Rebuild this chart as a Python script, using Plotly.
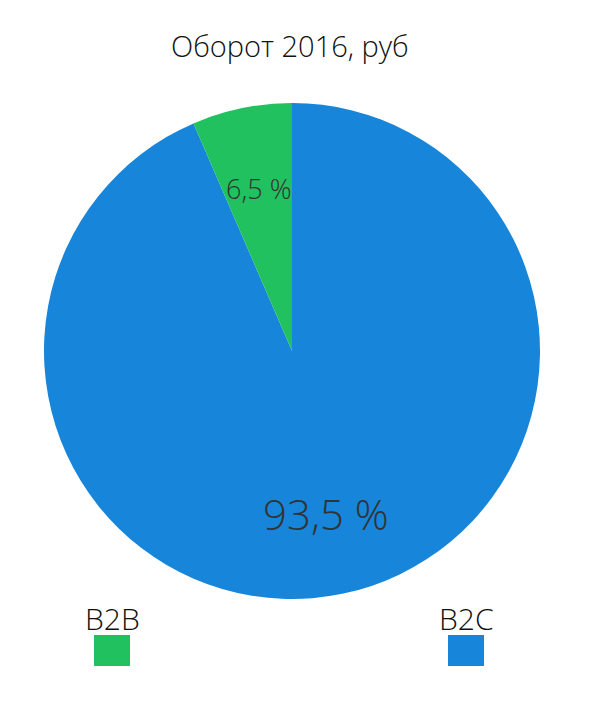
import math
import plotly.graph_objects as go

title_text = "Оборот 2016, руб"
categories = ["B2B", "B2C"]
values = [6.5, 93.5]
colors = ["#21C160", "#1685DA"]
label_sizes = [27, 42]

W, H = 600, 712
OFF = 8  # page body margin in the browser
cx, cy, R = 292 - OFF, 351 - OFF, 248  # pie geometry in pixels
FONT = "Open Sans, Helvetica Neue, Liberation Sans, Arial, sans-serif"
WEIGHT = 300
TXT = "#333333"

# B2B sits counterclockwise from 12 o'clock: draw clockwise with B2B last
fig = go.Figure()
fig.add_trace(go.Pie(
    labels=categories[::-1], values=values[::-1],
    marker=dict(colors=colors[::-1], line=dict(width=0)),
    sort=False, direction="clockwise", rotation=0,
    textinfo="none", hoverinfo="label+percent",
    domain=dict(x=[(cx - R) / W, (cx + R) / W], y=[1 - (cy + R) / H, 1 - (cy - R) / H]),
    showlegend=False,
))

annotations = []
# slice labels derived from values (counterclockwise from 12 o'clock)
total = sum(values)
cum = 0.0
for v, fs in zip(values, label_sizes):
    mid = (cum + v / 2) / total * 2 * math.pi
    cum += v
    r = 0.67 * R
    px = cx - r * math.sin(mid)
    py = cy - r * math.cos(mid)
    annotations.append(dict(
        x=px / W, y=1 - py / H, xref="paper", yref="paper",
        text=("%.1f" % (v / total * 100)).replace(".", ",") + " %",
        showarrow=False, font=dict(size=fs, color=TXT, family=FONT, weight=WEIGHT),
        xanchor="center", yanchor="middle"))

# title
annotations.append(dict(x=(290 - OFF) / W, y=1 - (45 - OFF) / H, xref="paper", yref="paper", text=title_text,
                        showarrow=False, font=dict(size=29, color="#111111", family=FONT, weight=WEIGHT),
                        xanchor="center", yanchor="middle"))

# custom legend: text above colored square
shapes = []
legend_x = [112, 466]
for cat, col, lx in zip(categories, colors, legend_x):
    lx = lx - OFF
    annotations.append(dict(x=lx / W, y=1 - (618 - OFF) / H, xref="paper", yref="paper", text=cat,
                            showarrow=False, font=dict(size=30, color="#111111", family=FONT, weight=WEIGHT),
                            xanchor="center", yanchor="middle"))
    shapes.append(dict(type="rect", xref="paper", yref="paper",
                       x0=(lx - 18) / W, x1=(lx + 18) / W,
                       y0=1 - (666 - OFF) / H, y1=1 - (635 - OFF) / H,
                       fillcolor=col, line=dict(width=0)))

fig.update_layout(
    width=W, height=H, margin=dict(l=0, r=0, t=0, b=0),
    paper_bgcolor="white", plot_bgcolor="white",
    annotations=annotations, shapes=shapes, showlegend=False,
)
fig.write_html("out.html")
